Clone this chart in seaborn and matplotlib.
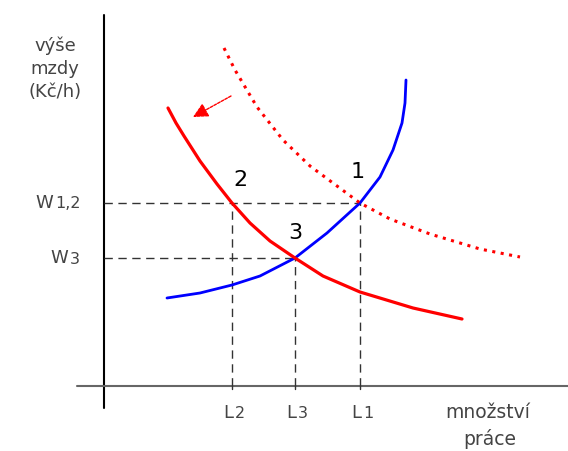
import numpy as np
import pandas as pd
import seaborn as sns
import matplotlib.pyplot as plt

# nabidka prace (modra), poptavka (cervena), posunuta poptavka (teckovana)
supply_x = [63, 96, 128, 156, 191, 223, 256, 276, 289, 298, 301, 302]
supply_y = [88, 93, 101, 110, 128, 153, 183, 209, 236, 263, 283, 306]

demand_x = [64, 72, 80, 96, 113, 128, 146, 166, 191, 219, 256, 309, 358]
demand_y = [278, 263, 250, 225, 202, 183, 163, 145, 128, 110, 94, 78, 67]

demand2_x = [120, 131, 153, 179, 206, 233, 256, 286, 326, 376, 416]
demand2_y = [338, 316, 279, 246, 220, 200, 183, 167, 152, 137, 129]

# rovnovazne body
w_levels = [183, 128]          # W1,2 , W3
w_labels = [("W", "1,2"), ("W", "3")]
l_levels = [128, 191, 256]     # L2, L3, L1
l_labels = [("L", "2"), ("L", "3"), ("L", "1")]
l_heights = [183, 128, 183]
points = ["2", "3", "1"]
point_xy = [(136, 206), (191, 153), (254, 214)]

sns.set_style("white")
plt.rcParams['font.family'] = ['DejaVu Sans']

fig = plt.figure(figsize=(5.68, 4.51), dpi=100)
ax = fig.add_axes([0, 0, 1, 1])
ax.set_xlim(-104, 464)
ax.set_ylim(-65, 386)
ax.axis("off")

# osy
ax.plot([0, 0], [-22, 371], color="black", lw=1.5)
ax.plot([-27, 464], [0, 0], color="#666666", lw=1.5)

# prerusovane cary
dash = dict(color="#333333", lw=1, dashes=(6, 4))
ax.plot([0, l_levels[2]], [w_levels[0]] * 2, **dash)
ax.plot([0, l_levels[1]], [w_levels[1]] * 2, **dash)
for lx, lh in zip(l_levels, l_heights):
    ax.plot([lx, lx], [0, lh], **dash)
    ax.plot([lx, lx], [0, -3], color="#333333", lw=1)

sns.lineplot(x=supply_x, y=supply_y, sort=False, estimator=None, color="#0000ff", lw=2, ax=ax)
sns.lineplot(x=demand_x, y=demand_y, sort=False, estimator=None, color="#ff0000", lw=2.3, ax=ax)
sns.lineplot(x=demand2_x, y=demand2_y, sort=False, estimator=None, color="#ff0000", lw=2.2,
             linestyle=(0, (1, 1.8)), ax=ax)

# sipka posunu poptavky
ax.annotate("", xy=(89, 269), xytext=(127, 290),
            arrowprops=dict(arrowstyle="-|>,head_length=0.9,head_width=0.45",
                            color="#ff0000", lw=1, linestyle=(0, (2, 1)), shrinkA=0, shrinkB=0))

txt = "#444444"
ax.text(-49, 317, "výše\nmzdy\n(Kč/h)", ha="center", va="center", fontsize=13,
        color=txt, linespacing=1.35)

for (big, small), wy in zip(w_labels, w_levels):
    xs = -50 if small == "1,2" else -35
    ax.text(xs - 1, wy, big, ha="right", va="center", fontsize=13, color=txt)
    ax.text(xs + 1, wy - 1, small, ha="left", va="center", fontsize=11.5, color=txt)

for (big, small), lx in zip(l_labels, l_levels):
    ax.text(lx + 1, -27, big, ha="right", va="center", fontsize=13, color=txt)
    ax.text(lx + 3, -28, small, ha="left", va="center", fontsize=11.5, color=txt)

ax.text(384, -26, "množství", ha="center", va="center", fontsize=13.5, color=txt)
ax.text(386, -53, "práce", ha="center", va="center", fontsize=13.5, color=txt)

for p, (px, py) in zip(points, point_xy):
    ax.text(px, py, p, ha="center", va="center", fontsize=16, color="black")

fig.savefig("out.png", dpi=100)
